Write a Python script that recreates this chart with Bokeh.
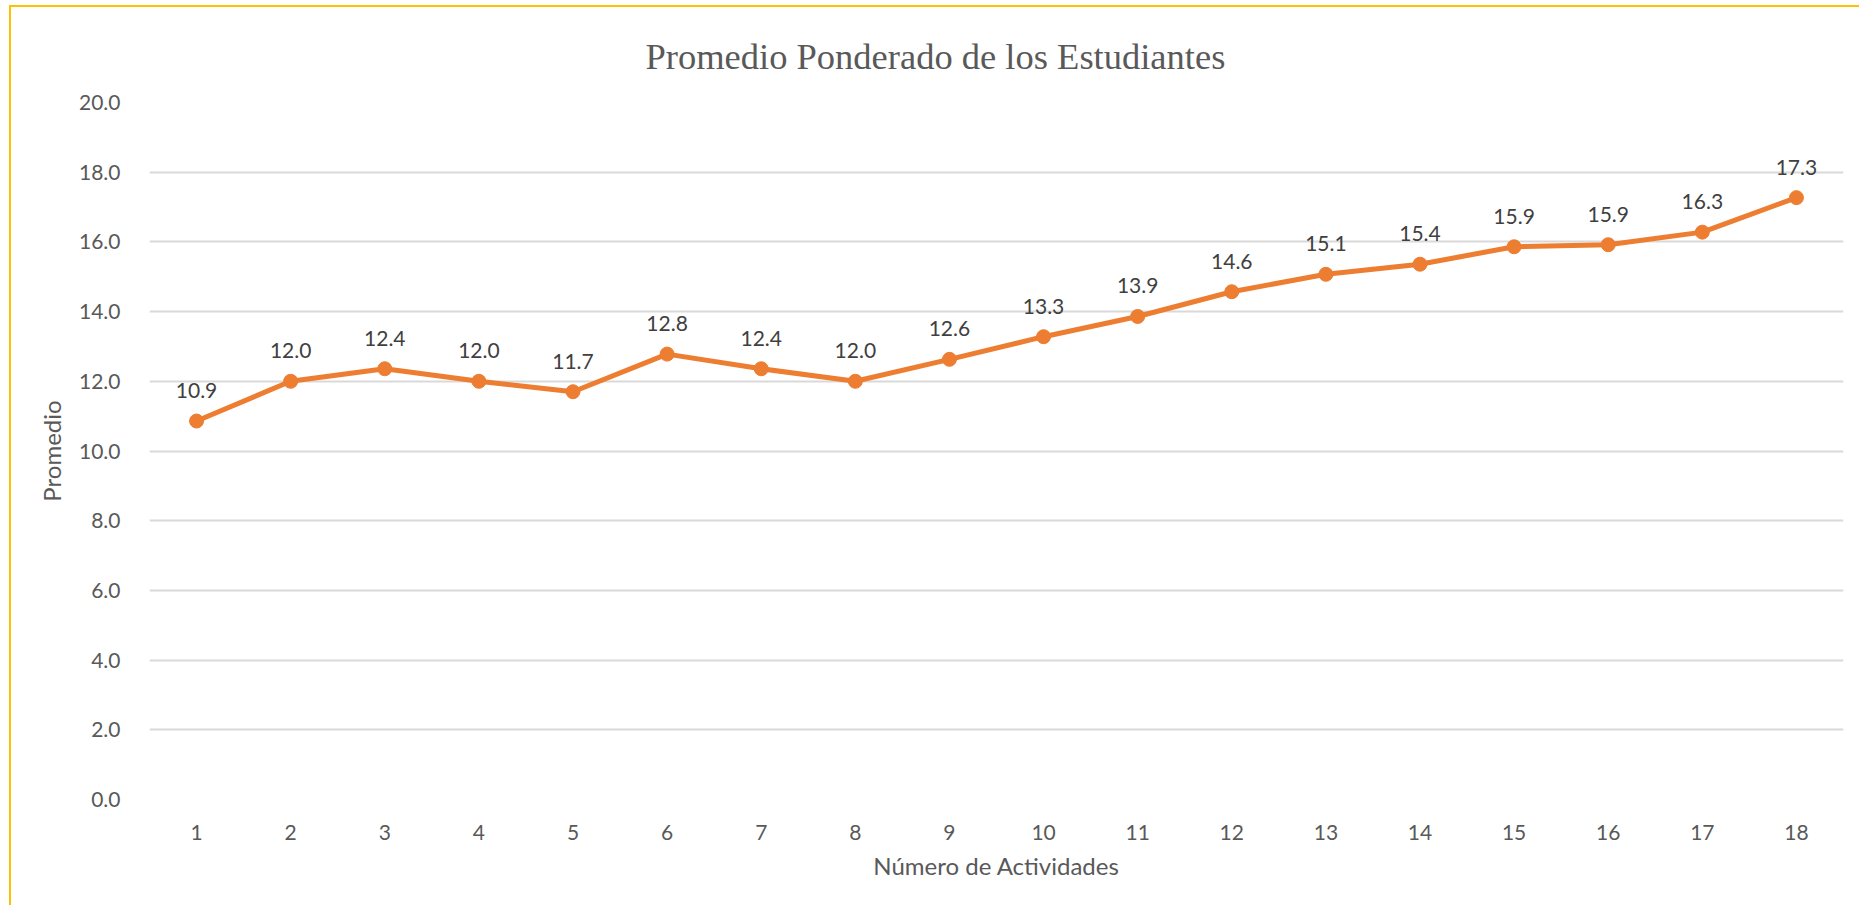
from bokeh.plotting import figure
from bokeh.models import ColumnDataSource, LabelSet, SingleIntervalTicker, NumeralTickFormatter, Range1d
from bokeh.core.properties import value
from bokeh.embed import file_html
from bokeh.resources import INLINE

actividades = [str(i) for i in range(1, 19)]
promedio = [10.86, 12.0, 12.36, 12.0, 11.7, 12.78, 12.36, 12.0, 12.63, 13.28,
            13.86, 14.57, 15.07, 15.36, 15.86, 15.92, 16.28, 17.27]
etiquetas = [f"{v:.1f}" for v in promedio]
titulo = "Promedio Ponderado de los Estudiantes"

src = ColumnDataSource(dict(x=actividades, y=promedio, lab=etiquetas))

W, H = 1850, 900
p = figure(x_range=actividades, y_range=Range1d(0, 20), width=W, height=H,
           output_backend="svg", toolbar_location=None,
           min_border_left=138, min_border_right=18, min_border_top=95, min_border_bottom=108)
p.styles = {"border-left": "2px solid #FFC000", "border-top": "2px solid #FFC000",
            "margin-left": "9px", "margin-top": "5px"}

p.title.text = titulo
p.title.align = "left"
p.title.offset = 496
p.title.vertical_align = "middle"
p.title.text_font = "Liberation Serif"
p.title.text_font_size = "36.5px"
p.title.text_font_style = "normal"
p.title.text_color = "#595959"
p.title.standoff = 50

p.line("x", "y", source=src, line_color="#ED7D31", line_width=5)
p.scatter("x", "y", source=src, size=14, fill_color="#ED7D31", line_color="#ED7D31")

labels = LabelSet(x="x", y="y", text="lab", source=src, y_offset=23,
                  text_align="center", text_baseline="bottom",
                  text_font=value("Lato"), text_font_size="21px", text_color="#404040")
p.add_layout(labels)

p.outline_line_color = None
p.xgrid.grid_line_color = None
p.ygrid.grid_line_color = "#D9D9D9"
p.ygrid.grid_line_width = 2
p.yaxis.ticker = SingleIntervalTicker(interval=2)
p.yaxis.formatter = NumeralTickFormatter(format="0.0")

for ax in (p.xaxis[0], p.yaxis[0]):
    ax.axis_line_color = None
    ax.major_tick_line_color = None
    ax.minor_tick_line_color = None
    ax.major_label_text_font = "Lato"
    ax.major_label_text_font_size = "21px"
    ax.major_label_text_color = "#595959"
    ax.axis_label_text_font = "Lato"
    ax.axis_label_text_font_size = "24px"
    ax.axis_label_text_font_style = "normal"
    ax.axis_label_text_color = "#595959"

p.xaxis.axis_label = "Número de Actividades"
p.yaxis.axis_label = "Promedio"
p.xaxis.major_label_standoff = 19
p.yaxis.major_label_standoff = 23
p.xaxis.axis_label_standoff = 8
p.yaxis.axis_label_standoff = 10

open("out.html", "w").write(file_html(p, INLINE))
